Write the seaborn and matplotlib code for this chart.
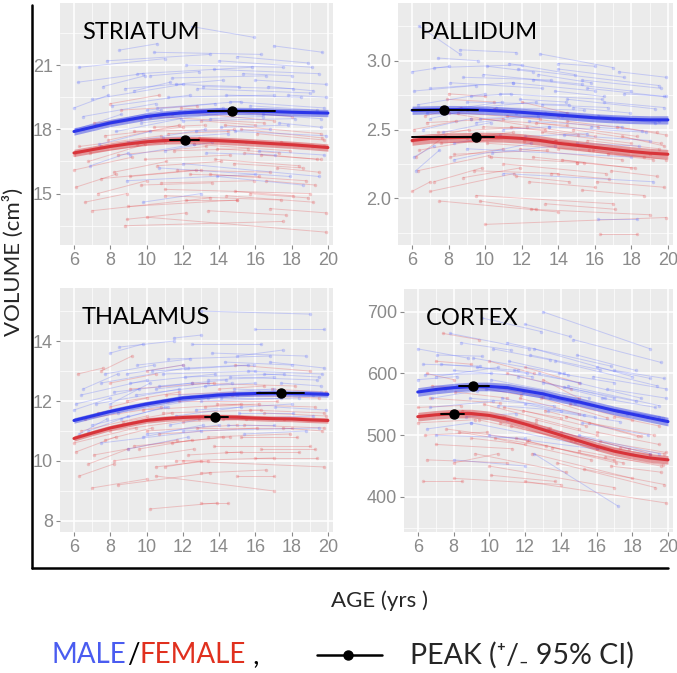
import numpy as np
import pandas as pd
import matplotlib
matplotlib.use("Agg")
import matplotlib.pyplot as plt
from matplotlib.lines import Line2D
from matplotlib.ticker import MultipleLocator
import seaborn as sns

# --- Data ---
fit_ages = list(range(6, 21))

# fitted trajectories (male / female), one value per year 6..20
striatum_fit_m = [17.9, 18.1, 18.3, 18.45, 18.6, 18.7, 18.77, 18.82, 18.85, 18.86, 18.85, 18.83, 18.8, 18.78, 18.76]
striatum_fit_f = [16.9, 17.05, 17.2, 17.32, 17.42, 17.48, 17.5, 17.5, 17.47, 17.43, 17.38, 17.33, 17.28, 17.22, 17.15]
pallidum_fit_m = [2.64, 2.643, 2.645, 2.644, 2.64, 2.633, 2.625, 2.615, 2.605, 2.595, 2.585, 2.578, 2.573, 2.57, 2.57]
pallidum_fit_f = [2.42, 2.435, 2.44, 2.443, 2.445, 2.443, 2.435, 2.42, 2.40, 2.385, 2.37, 2.355, 2.34, 2.328, 2.32]
thalamus_fit_m = [11.35, 11.5, 11.65, 11.78, 11.9, 12.0, 12.1, 12.15, 12.2, 12.23, 12.25, 12.26, 12.25, 12.24, 12.22]
thalamus_fit_f = [10.75, 10.93, 11.1, 11.23, 11.35, 11.41, 11.45, 11.47, 11.47, 11.46, 11.43, 11.41, 11.4, 11.37, 11.35]
cortex_fit_m = [570, 574, 577, 579, 579, 577, 572, 567, 560, 554, 547, 540, 534, 528, 522]
cortex_fit_f = [530, 533, 535, 535, 532, 526, 518, 509, 500, 491, 482, 474, 468, 463, 460]

# half width of the confidence band (male, female)
band_halfwidth = [(0.17, 0.17), (0.03, 0.035), (0.09, 0.09), (7, 7)]

# peaks: (age, volume, ci_low, ci_high)
striatum_peaks = [(14.7, 18.86, 13.4, 17.1), (12.1, 17.5, 11.3, 12.9)]
pallidum_peaks = [(7.75, 2.645, 6.0, 9.6), (9.5, 2.445, 6.0, 10.5)]
thalamus_peaks = [(17.4, 12.26, 16.1, 18.7), (13.8, 11.47, 13.2, 14.5)]
cortex_peaks = [(9.1, 579, 8.3, 10.0), (8.0, 535, 7.3, 8.6)]

# individual subjects: (age first scan, age last scan, volume first, volume last)
striatum_subj_m = [
    (6.2, 9.8, 20.2, 20.6), (6.5, 10.5, 18.6, 19.2), (7.0, 12.0, 19.4, 20.1), (7.8, 13.5, 21.2, 21.5),
    (8.3, 11.9, 17.9, 18.5), (8.8, 14.2, 19.9, 20.3), (9.1, 12.6, 16.8, 17.3), (9.5, 15.8, 20.6, 20.9),
    (10.0, 13.8, 18.9, 19.2), (10.4, 16.3, 21.6, 21.5), (10.9, 14.5, 17.6, 17.8), (11.2, 17.0, 19.5, 19.6),
    (11.6, 15.1, 20.1, 20.0), (12.0, 18.2, 18.4, 18.5), (12.5, 15.9, 22.8, 22.3), (12.8, 19.0, 19.9, 19.7),
    (13.3, 17.1, 16.9, 16.8), (13.7, 19.5, 20.8, 20.6), (14.1, 17.8, 18.1, 18.2), (14.6, 19.8, 19.3, 19.0),
    (15.0, 18.9, 21.4, 21.1), (15.5, 19.2, 17.4, 17.2), (16.0, 19.9, 20.3, 20.1), (16.4, 19.6, 18.7, 18.5),
    (7.4, 10.2, 17.3, 17.9), (9.8, 13.0, 14.6, 15.0), (13.9, 18.6, 15.8, 15.4), (6.1, 8.6, 18.0, 18.7),
    (17.0, 19.7, 21.9, 21.6), (10.7, 17.9, 16.2, 15.8),
    (6.0, 7.9, 19.0, 19.6), (6.3, 11.0, 20.9, 21.3), (6.9, 9.0, 16.3, 16.9), (7.2, 10.8, 18.2, 18.9),
    (7.6, 9.9, 20.0, 20.5), (8.1, 12.4, 19.1, 19.6), (8.5, 10.6, 21.7, 22.0), (9.0, 13.2, 17.4, 18.0),
    (9.3, 11.3, 19.8, 20.2), (9.7, 14.9, 18.3, 18.8), (10.2, 12.9, 20.5, 20.7), (10.6, 15.2, 19.0, 19.3),
    (11.0, 13.6, 17.0, 17.4), (11.4, 16.6, 20.4, 20.5), (11.8, 14.2, 18.8, 19.0), (12.2, 17.5, 21.0, 20.9),
    (12.7, 16.8, 17.9, 18.0), (13.1, 18.1, 20.0, 19.9), (13.5, 16.4, 18.5, 18.6), (14.0, 19.1, 21.2, 20.9),
    (14.4, 18.5, 19.6, 19.5), (14.9, 19.9, 17.9, 17.7), (15.3, 18.0, 20.6, 20.5), (15.7, 19.4, 19.1, 18.9),
    (16.2, 19.8, 17.0, 16.8), (16.7, 19.2, 20.0, 19.8), (17.3, 19.6, 18.3, 18.1), (17.8, 19.9, 19.6, 19.5),
    (8.9, 16.0, 15.6, 15.9), (12.0, 19.5, 16.4, 15.8),
]
striatum_subj_f = [
    (6.0, 9.2, 16.1, 16.7), (6.3, 10.8, 17.2, 17.7), (6.6, 8.9, 14.6, 15.0), (7.1, 11.4, 18.3, 18.7),
    (7.5, 12.7, 15.7, 16.1), (8.0, 10.7, 19.2, 19.6), (8.4, 13.3, 16.8, 17.2), (8.9, 12.2, 13.8, 14.1),
    (9.3, 14.8, 17.9, 18.0), (9.7, 13.6, 15.4, 15.5), (10.2, 16.5, 18.6, 18.3), (10.6, 14.1, 16.3, 16.5),
    (11.0, 17.4, 14.9, 14.7), (11.5, 15.6, 17.0, 17.1), (11.9, 18.0, 19.0, 18.6), (12.4, 16.2, 15.9, 15.8),
    (12.9, 19.1, 17.6, 17.2), (13.4, 17.7, 14.2, 14.0), (13.8, 18.4, 16.6, 16.3), (14.3, 19.6, 18.2, 17.8),
    (14.9, 18.1, 15.1, 14.9), (15.4, 19.4, 16.9, 16.6), (16.1, 19.8, 17.8, 17.5), (16.6, 19.3, 15.6, 15.4),
    (10.0, 19.9, 13.9, 13.2), (7.9, 11.8, 17.5, 18.2), (12.1, 17.0, 18.8, 18.4), (6.8, 9.9, 16.5, 17.3),
    (17.2, 19.5, 16.2, 16.0), (9.0, 15.0, 14.4, 14.7),
    (6.1, 8.3, 15.3, 15.9), (6.5, 9.7, 18.0, 18.5), (6.9, 11.0, 16.9, 17.4), (7.3, 10.0, 15.0, 15.6),
    (7.7, 12.0, 17.7, 18.1), (8.2, 11.1, 16.0, 16.5), (8.6, 12.8, 18.9, 19.1), (9.1, 13.0, 15.8, 16.1),
    (9.5, 12.0, 17.3, 17.6), (9.9, 14.6, 16.6, 16.8), (10.4, 13.2, 18.1, 18.2), (10.8, 15.9, 15.5, 15.6),
    (11.2, 14.5, 17.8, 17.9), (11.7, 16.8, 16.1, 16.0), (12.2, 15.0, 14.7, 14.7), (12.6, 17.9, 17.3, 17.0),
    (13.0, 16.0, 18.4, 18.2), (13.5, 18.8, 15.9, 15.6), (13.9, 17.3, 17.1, 16.9), (14.4, 19.2, 14.9, 14.6),
    (14.8, 18.6, 16.4, 16.2), (15.2, 19.7, 18.0, 17.6), (15.7, 18.9, 15.0, 14.8), (16.3, 19.6, 16.8, 16.6),
    (16.8, 19.9, 14.3, 14.1), (17.4, 19.8, 17.4, 17.2), (7.0, 13.5, 14.2, 14.8), (8.8, 17.5, 13.5, 13.7),
    (11.0, 19.0, 15.2, 15.0), (6.0, 7.5, 16.8, 17.2),
]
pallidum_subj_m = [
    (6.1, 9.5, 2.78, 2.82), (6.4, 8.6, 3.25, 3.05), (6.8, 10.9, 2.62, 2.70), (7.2, 12.0, 2.95, 2.97),
    (7.7, 10.3, 2.48, 2.55), (8.1, 13.1, 2.84, 2.80), (8.6, 11.7, 3.08, 3.06), (9.0, 14.6, 2.70, 2.68),
    (9.5, 12.9, 2.55, 2.60), (9.9, 15.3, 2.90, 2.83), (10.4, 13.8, 2.33, 2.38), (10.8, 16.4, 2.76, 2.72),
    (11.3, 14.9, 2.98, 2.90), (11.7, 17.2, 2.62, 2.58), (12.2, 15.6, 2.45, 2.47), (12.6, 18.0, 2.86, 2.78),
    (13.1, 16.7, 2.68, 2.66), (13.5, 18.8, 2.52, 2.48), (14.0, 17.6, 2.94, 2.88), (14.5, 19.3, 2.72, 2.65),
    (15.0, 18.4, 2.40, 2.38), (15.6, 19.8, 2.80, 2.74), (16.2, 19.5, 2.60, 2.56), (16.2, 18.3, 1.85, 1.85),
    (17.3, 19.9, 2.92, 2.88), (6.2, 7.5, 2.20, 2.35), (8.3, 12.5, 2.28, 2.40), (11.0, 19.2, 2.18, 2.12),
    (7.0, 9.0, 2.58, 2.64), (13.0, 17.0, 3.05, 2.95),
    (6.0, 8.0, 2.92, 2.96), (6.3, 10.0, 2.68, 2.76), (6.6, 9.2, 2.50, 2.58), (7.0, 11.5, 2.80, 2.84),
    (7.4, 9.6, 3.02, 3.00), (7.9, 12.8, 2.64, 2.70), (8.3, 10.8, 2.40, 2.46), (8.8, 13.6, 2.88, 2.86),
    (9.2, 11.4, 2.74, 2.76), (9.7, 14.2, 2.58, 2.60), (10.1, 12.6, 2.96, 2.92), (10.6, 15.4, 2.66, 2.64),
    (11.0, 13.5, 2.50, 2.52), (11.5, 16.0, 2.84, 2.78), (11.9, 14.4, 2.72, 2.70), (12.4, 17.5, 2.56, 2.52),
    (12.9, 15.8, 2.90, 2.84), (13.3, 18.2, 2.62, 2.58), (13.8, 16.5, 2.78, 2.74), (14.3, 19.0, 2.46, 2.42),
    (14.8, 17.9, 2.66, 2.62), (15.3, 19.6, 2.86, 2.80), (15.8, 18.6, 2.52, 2.49), (16.5, 19.8, 2.70, 2.66),
    (17.0, 19.3, 2.58, 2.55), (17.6, 19.9, 2.76, 2.74), (6.1, 7.2, 2.30, 2.38), (9.0, 18.0, 2.36, 2.30),
    (11.8, 19.5, 2.94, 2.82), (14.0, 16.0, 2.98, 2.96),
]
pallidum_subj_f = [
    (6.0, 9.1, 2.42, 2.50), (6.3, 10.2, 2.20, 2.31), (6.7, 8.7, 2.60, 2.66), (7.0, 11.6, 2.05, 2.18),
    (7.4, 12.3, 2.48, 2.52), (7.9, 10.5, 2.72, 2.70), (8.3, 13.4, 2.32, 2.35), (8.8, 11.9, 2.15, 2.22),
    (9.2, 14.5, 2.58, 2.53), (9.7, 12.8, 1.98, 1.92), (10.1, 15.7, 2.40, 2.35), (10.5, 14.0, 2.65, 2.60),
    (11.0, 16.6, 2.25, 2.18), (11.4, 15.1, 2.52, 2.46), (11.9, 17.5, 2.36, 2.28), (12.4, 16.0, 2.12, 2.08),
    (12.8, 18.3, 2.55, 2.45), (13.3, 17.1, 1.96, 1.92), (13.8, 19.0, 2.42, 2.32), (14.2, 18.0, 2.28, 2.22),
    (14.8, 19.6, 2.50, 2.40), (15.3, 18.7, 2.06, 2.02), (15.9, 19.9, 2.35, 2.28), (16.3, 18.3, 1.74, 1.74),
    (16.9, 19.4, 2.20, 2.16), (10.0, 19.9, 1.81, 1.86), (6.2, 7.8, 2.30, 2.45), (8.0, 16.0, 2.62, 2.45),
    (12.0, 14.5, 2.70, 2.62), (17.5, 19.8, 2.45, 2.38),
    (6.1, 8.4, 2.50, 2.56), (6.4, 9.5, 2.35, 2.42), (6.8, 11.0, 2.55, 2.58), (7.2, 9.8, 2.12, 2.22),
    (7.6, 12.1, 2.40, 2.44), (8.1, 11.0, 2.30, 2.36), (8.5, 13.0, 2.62, 2.58), (9.0, 11.5, 2.44, 2.48),
    (9.4, 14.0, 2.20, 2.18), (9.9, 13.3, 2.52, 2.50), (10.3, 15.0, 2.30, 2.26), (10.8, 13.9, 2.45, 2.42),
    (11.2, 16.2, 2.60, 2.52), (11.7, 14.6, 2.16, 2.12), (12.1, 17.0, 2.42, 2.36), (12.6, 15.4, 2.30, 2.26),
    (13.1, 18.0, 2.48, 2.40), (13.6, 16.8, 2.18, 2.14), (14.0, 18.7, 2.36, 2.30), (14.5, 19.4, 2.56, 2.48),
    (15.0, 18.2, 2.26, 2.22), (15.6, 19.5, 2.42, 2.36), (16.1, 19.8, 2.12, 2.08), (16.7, 19.2, 2.32, 2.28),
    (17.2, 19.9, 2.52, 2.46), (6.0, 7.0, 2.05, 2.12), (7.5, 14.0, 1.98, 1.90), (9.5, 17.0, 2.02, 1.96),
    (12.5, 19.0, 1.92, 1.88), (8.0, 10.0, 2.76, 2.74),
]
thalamus_subj_m = [
    (6.1, 9.6, 11.9, 12.4), (6.5, 8.4, 12.4, 12.9), (7.0, 11.2, 11.2, 11.8), (7.5, 12.1, 12.6, 13.1),
    (8.0, 9.8, 13.6, 13.9), (8.4, 13.4, 11.6, 12.1), (8.9, 12.0, 12.9, 13.2), (9.4, 14.7, 12.2, 12.6),
    (9.8, 13.1, 10.8, 11.2), (10.3, 15.9, 13.0, 13.2), (10.7, 14.4, 12.5, 12.7), (11.2, 16.8, 13.4, 13.5),
    (11.6, 15.2, 11.5, 11.8), (12.1, 17.6, 12.8, 12.9), (12.5, 16.3, 13.9, 13.9), (13.0, 18.4, 12.0, 12.1),
    (13.4, 17.0, 12.7, 12.8), (13.9, 19.2, 11.4, 11.5), (14.3, 18.0, 13.3, 13.2), (14.8, 19.6, 12.4, 12.3),
    (15.4, 18.8, 10.9, 11.0), (16.0, 19.8, 14.4, 14.4), (16.5, 19.5, 12.9, 12.8), (13.0, 19.0, 15.0, 14.9),
    (17.1, 19.9, 11.8, 11.7), (9.0, 12.3, 10.4, 10.8), (6.3, 7.8, 10.9, 11.4), (11.5, 13.0, 14.1, 14.2),
    (8.0, 10.2, 11.9, 12.6), (15.0, 17.5, 13.5, 13.7),
    (6.0, 8.0, 11.7, 12.1), (6.4, 10.0, 12.2, 12.7), (6.8, 9.0, 11.0, 11.5), (7.2, 11.8, 11.9, 12.4),
    (7.7, 10.4, 12.9, 13.2), (8.2, 12.5, 12.3, 12.6), (8.6, 11.0, 11.4, 11.8), (9.1, 13.8, 12.6, 12.9),
    (9.5, 12.4, 13.2, 13.4), (10.0, 15.0, 11.9, 12.2), (10.5, 13.4, 12.4, 12.6), (10.9, 16.0, 12.9, 13.0),
    (11.3, 14.0, 11.2, 11.5), (11.8, 17.0, 12.2, 12.4), (12.3, 15.6, 13.1, 13.2), (12.7, 18.0, 11.7, 11.9),
    (13.2, 16.0, 12.5, 12.6), (13.6, 18.8, 13.6, 13.5), (14.1, 17.4, 12.1, 12.1), (14.6, 19.4, 12.8, 12.7),
    (15.1, 18.1, 11.6, 11.6), (15.6, 19.7, 13.0, 12.9), (16.2, 19.2, 12.3, 12.2), (16.8, 19.8, 13.3, 13.1),
    (17.4, 19.6, 12.6, 12.5), (7.5, 13.0, 10.6, 11.0), (10.0, 14.0, 10.9, 11.2), (12.0, 19.5, 11.0, 11.1),
    (8.5, 11.5, 13.8, 14.0), (14.5, 17.0, 11.2, 11.2),
]
thalamus_subj_f = [
    (6.0, 9.4, 10.6, 11.1), (6.3, 8.2, 9.5, 9.9), (6.6, 10.8, 11.4, 11.8), (7.1, 11.7, 10.2, 10.7),
    (7.5, 9.2, 13.0, 13.5), (8.0, 12.9, 11.0, 11.4), (8.4, 13.5, 9.2, 9.6), (8.9, 11.8, 12.0, 12.3),
    (9.3, 14.6, 10.5, 10.8), (9.8, 15.2, 11.7, 11.9), (10.2, 13.9, 8.4, 8.6), (10.7, 16.1, 10.9, 11.1),
    (11.1, 14.8, 12.2, 12.3), (11.6, 17.0, 10.0, 10.1), (12.0, 15.5, 11.3, 11.4), (12.5, 18.2, 12.6, 12.5),
    (13.0, 16.6, 9.6, 9.7), (13.4, 17.9, 10.8, 10.9), (13.9, 19.3, 11.9, 11.8), (14.4, 18.4, 10.3, 10.3),
    (14.9, 19.0, 13.2, 13.0), (15.4, 19.8, 11.2, 11.1), (16.0, 19.4, 10.1, 10.1), (10.5, 17.0, 9.5, 9.0),
    (16.5, 19.9, 11.6, 11.5), (6.2, 7.6, 12.9, 13.1), (12.0, 19.8, 10.0, 9.8), (8.0, 10.0, 11.8, 12.1),
    (11.0, 13.0, 9.8, 10.0), (14.0, 16.5, 12.4, 12.5),
    (6.1, 8.3, 10.3, 10.8), (6.4, 10.0, 11.0, 11.5), (6.8, 9.0, 9.9, 10.4), (7.3, 11.2, 11.6, 12.0),
    (7.7, 10.3, 10.7, 11.1), (8.2, 12.6, 10.0, 10.4), (8.7, 11.4, 11.3, 11.6), (9.1, 13.7, 12.4, 12.6),
    (9.6, 12.5, 10.4, 10.7), (10.0, 15.0, 11.0, 11.2), (10.5, 13.4, 9.8, 10.0), (10.9, 16.3, 11.6, 11.7),
    (11.4, 14.2, 10.6, 10.8), (11.8, 17.2, 12.0, 12.0), (12.3, 15.2, 10.2, 10.3), (12.8, 18.0, 11.1, 11.1),
    (13.2, 16.2, 11.8, 11.9), (13.7, 19.0, 10.5, 10.5), (14.2, 17.6, 11.4, 11.4), (14.7, 19.5, 12.2, 12.1),
    (15.2, 18.3, 10.8, 10.8), (15.7, 19.8, 11.7, 11.6), (16.3, 19.3, 10.4, 10.4), (16.9, 19.9, 12.4, 12.3),
    (17.5, 19.7, 11.1, 11.0), (7.0, 10.0, 9.1, 9.4), (8.0, 10.5, 12.6, 12.9), (13.0, 14.5, 8.6, 8.6),
    (10.0, 12.0, 13.0, 13.2), (15.0, 17.0, 9.5, 9.5),
]
cortex_subj_m = [
    (6.0, 8.8, 640, 625), (6.4, 10.1, 598, 600), (6.8, 9.3, 560, 572), (7.3, 11.6, 615, 605),
    (7.8, 12.2, 665, 640), (8.2, 13.0, 580, 568), (8.7, 11.5, 530, 535), (9.1, 14.4, 625, 598),
    (9.6, 12.9, 690, 668), (10.1, 15.6, 590, 560), (10.5, 14.0, 548, 540), (11.0, 16.8, 650, 612),
    (11.4, 15.1, 605, 585), (11.9, 17.7, 570, 535), (12.3, 16.2, 630, 606), (12.8, 18.5, 600, 560),
    (13.3, 17.3, 540, 522), (13.7, 19.4, 620, 580), (14.2, 18.2, 578, 555), (14.7, 19.6, 655, 618),
    (15.2, 18.9, 520, 500), (15.8, 19.9, 595, 575), (16.3, 19.3, 560, 545), (12.5, 17.2, 470, 385),
    (17.0, 19.8, 605, 592), (6.5, 9.0, 510, 520), (8.0, 12.0, 460, 450), (13.0, 19.0, 700, 640),
    (10.0, 18.0, 500, 470), (7.0, 10.5, 595, 610),
    (6.0, 8.2, 590, 595), (6.3, 9.5, 615, 612), (6.7, 10.2, 545, 555), (7.1, 9.6, 630, 628),
    (7.5, 11.0, 575, 578), (8.0, 12.4, 605, 595), (8.4, 11.2, 650, 638), (8.9, 13.6, 560, 548),
    (9.3, 12.1, 610, 600), (9.8, 14.8, 575, 552), (10.2, 13.4, 640, 622), (10.7, 15.9, 560, 530),
    (11.1, 14.2, 620, 600), (11.6, 17.0, 595, 560), (12.0, 15.3, 550, 532), (12.5, 18.0, 640, 595),
    (13.0, 16.5, 585, 560), (13.4, 18.8, 560, 530), (13.9, 17.0, 600, 585), (14.4, 19.5, 580, 548),
    (14.9, 18.2, 630, 605), (15.5, 19.7, 550, 528), (16.0, 19.0, 610, 592), (16.6, 19.9, 575, 560),
    (17.2, 19.5, 540, 530), (7.0, 12.0, 500, 495), (9.0, 16.0, 520, 480), (11.0, 19.0, 525, 470),
    (12.0, 14.5, 680, 660), (15.0, 19.5, 500, 470),
]
cortex_subj_f = [
    (6.0, 9.2, 520, 525), (6.3, 8.5, 425, 425), (6.7, 10.6, 560, 552), (7.0, 11.3, 485, 478),
    (7.4, 9.4, 665, 655), (7.9, 12.6, 540, 520), (8.3, 13.2, 505, 482), (8.8, 11.8, 580, 565),
    (9.2, 14.3, 470, 440), (9.7, 15.0, 550, 510), (10.1, 13.7, 435, 425), (10.6, 16.0, 520, 478),
    (11.0, 14.6, 600, 575), (11.5, 17.1, 495, 455), (11.9, 15.4, 540, 515), (12.4, 18.0, 470, 430),
    (12.9, 16.6, 560, 528), (13.3, 17.8, 510, 478), (13.8, 19.3, 455, 415), (14.3, 18.3, 530, 498),
    (14.8, 19.0, 490, 468), (15.3, 19.8, 445, 420), (16.0, 19.5, 505, 485), (16.5, 19.7, 465, 452),
    (12.0, 19.9, 425, 390), (6.5, 8.0, 600, 590), (8.0, 10.5, 455, 470), (10.0, 12.5, 620, 600),
    (13.0, 15.0, 590, 560), (17.0, 19.5, 530, 515),
    (6.0, 8.4, 545, 548), (6.4, 9.9, 500, 505), (6.8, 9.2, 580, 575), (7.2, 10.8, 535, 530),
    (7.6, 12.2, 510, 492), (8.1, 11.0, 570, 560), (8.5, 13.4, 540, 512), (9.0, 12.0, 495, 485),
    (9.4, 14.6, 525, 492), (9.9, 13.0, 580, 562), (10.3, 15.7, 495, 460), (10.8, 14.0, 545, 528),
    (11.2, 16.4, 515, 480), (11.7, 15.0, 560, 535), (12.1, 17.5, 490, 455), (12.6, 16.0, 525, 500),
    (13.1, 18.5, 540, 498), (13.5, 17.0, 480, 460), (14.0, 19.0, 505, 470), (14.5, 18.0, 550, 525),
    (15.0, 19.6, 475, 450), (15.6, 19.2, 520, 500), (16.2, 19.9, 490, 472), (16.8, 19.6, 450, 440),
    (17.3, 19.8, 480, 470), (6.5, 11.0, 460, 455), (8.0, 14.0, 430, 420), (10.0, 17.0, 450, 415),
    (12.0, 15.0, 610, 585), (7.0, 9.0, 620, 615),
]

panel_names = ["STRIATUM", "PALLIDUM", "THALAMUS", "CORTEX"]
y_ticks = [[15, 18, 21], [2.0, 2.5, 3.0], [8, 10, 12, 14], [400, 500, 600, 700]]
y_tick_labels = [["15", "18", "21"], ["2.0", "2.5", "3.0"], ["8", "10", "12", "14"], ["400", "500", "600", "700"]]
y_limits = [(12.6, 23.9), (1.66, 3.42), (7.63, 15.77), (343, 737)]
x_ticks = [6, 8, 10, 12, 14, 16, 18, 20]

fits = [(striatum_fit_m, striatum_fit_f), (pallidum_fit_m, pallidum_fit_f),
        (thalamus_fit_m, thalamus_fit_f), (cortex_fit_m, cortex_fit_f)]
peaks = [striatum_peaks, pallidum_peaks, thalamus_peaks, cortex_peaks]
subjects = [(striatum_subj_m, striatum_subj_f), (pallidum_subj_m, pallidum_subj_f),
            (thalamus_subj_m, thalamus_subj_f), (cortex_subj_m, cortex_subj_f)]

# --- Style ---
sns.set_theme(style="darkgrid", rc={"axes.facecolor": "#EBEBEB", "grid.color": "white",
                                    "figure.facecolor": "white"})
plt.rcParams["font.family"] = ["Liberation Sans", "DejaVu Sans"]

MALE_LINE = "#2B35E8"
FEMALE_LINE = "#D8343A"
MALE_SUBJ = "#5A6BFF"
FEMALE_SUBJ = "#E5484B"
TICK_GREY = "#8A8A8A"

fig = plt.figure(figsize=(6.77, 6.73), dpi=100)
# panel rectangles in pixels: (left, top, right, bottom)
panel_px = [(60, 3, 333, 245), (398, 3, 673, 245), (60, 288, 333, 532), (404, 289, 673, 532)]
W, H = 677, 673

for i, name in enumerate(panel_names):
    l, t, r, b = panel_px[i]
    ax = fig.add_axes([l / W, 1 - b / H, (r - l) / W, (b - t) / H])

    # individual trajectories
    rows = []
    for sex, subj in zip(["M", "F"], subjects[i]):
        for k, (a0, a1, v0, v1) in enumerate(subj):
            rows.append({"age": a0, "vol": v0, "sex": sex, "id": f"{sex}{k}"})
            rows.append({"age": a1, "vol": v1, "sex": sex, "id": f"{sex}{k}"})
    df = pd.DataFrame(rows)
    sns.lineplot(data=df, x="age", y="vol", hue="sex", units="id", estimator=None,
                 palette={"M": MALE_SUBJ, "F": FEMALE_SUBJ}, hue_order=["F", "M"],
                 lw=0.7, alpha=0.28, marker="o", markersize=2.5, markeredgewidth=0,
                 legend=False, ax=ax, zorder=2)

    # fitted curves with confidence band
    for fit, col, hw in zip(fits[i], [MALE_LINE, FEMALE_LINE], band_halfwidth[i]):
        fit = np.array(fit, dtype=float)
        ax.fill_between(fit_ages, fit - hw, fit + hw, color=col, alpha=0.45, lw=0, zorder=3)
        sns.lineplot(x=fit_ages, y=fit, color=col, lw=2.2, ax=ax, zorder=4)

    # peaks with 95% CI
    for (pa, pv, lo, hi) in peaks[i]:
        ax.plot([lo, hi], [pv, pv], color="black", lw=1.4, zorder=5)
        ax.plot([pa], [pv], "o", color="black", markersize=6.5, zorder=6)

    ax.set_xlim(5.23, 20.28)
    ax.set_ylim(*y_limits[i])
    ax.set_xticks(x_ticks)
    ax.set_xticklabels([str(x) for x in x_ticks])
    ax.set_yticks(y_ticks[i])
    ax.set_yticklabels(y_tick_labels[i])
    ax.xaxis.set_minor_locator(MultipleLocator(1))
    step = y_ticks[i][1] - y_ticks[i][0]
    ax.yaxis.set_minor_locator(MultipleLocator(step / 2))
    ax.grid(which="major", color="white", lw=1.1)
    ax.grid(which="minor", color="white", lw=0.5)
    ax.tick_params(axis="both", which="major", labelsize=13, labelcolor=TICK_GREY,
                   color=TICK_GREY, length=3, width=0.8, pad=2, bottom=True, left=True)
    ax.tick_params(which="minor", length=0)
    ax.set_xlabel("")
    ax.set_ylabel("")
    for sp in ax.spines.values():
        sp.set_visible(False)
    ax.text(0.08, 0.88, name, transform=ax.transAxes, fontsize=17, family=["Lato", "DejaVu Sans"],
            color="black", va="center", ha="left", zorder=7)

# outer frame lines
fig.add_artist(Line2D([32 / W, 32 / W], [1 - 5 / H, 1 - 568 / H], color="black", lw=1.8))
fig.add_artist(Line2D([32 / W, 668 / W], [1 - 568 / H, 1 - 568 / H], color="black", lw=1.8))

label_font = ["Lato", "DejaVu Sans"]
fig.text(13.5 / W, 1 - 262 / H, "VOLUME (cm³)", rotation=90, fontsize=16, family=label_font,
         va="center", ha="center")
fig.text(380 / W, 1 - 601 / H, "AGE (yrs )", fontsize=16, family=label_font,
         va="center", ha="center")

# legend text row
fig.canvas.draw()
renderer = fig.canvas.get_renderer()
x = 52 / W
y = 1 - 655 / H
for piece, col in [("MALE", "#4A5CF0"), ("/", "black"), ("FEMALE", "#E0301E"), (" ,", "black")]:
    t = fig.text(x, y, piece, fontsize=20, family=label_font, color=col, va="center", ha="left")
    bb = t.get_window_extent(renderer)
    x = bb.x1 / W
fig.add_artist(Line2D([317 / W, 382 / W], [y, y], color="black", lw=1.8))
fig.add_artist(Line2D([348 / W], [y], marker="o", color="black", markersize=6.5))
fig.text(410 / W, y, "PEAK (⁺/₋ 95% CI)", fontsize=20.5, family=label_font, va="center", ha="left")

fig.savefig("out.png", dpi=100)
